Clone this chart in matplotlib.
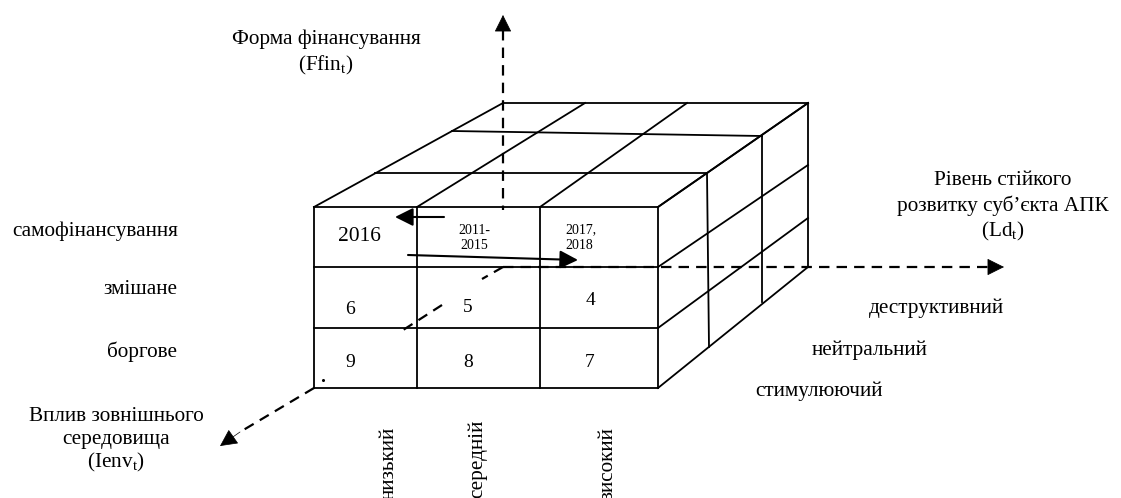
import matplotlib
matplotlib.use('Agg')
import matplotlib.pyplot as plt

plt.rcParams['font.family'] = ['Liberation Serif', 'DejaVu Serif']
plt.rcParams['mathtext.fontset'] = 'custom'
plt.rcParams['mathtext.rm'] = 'Liberation Serif'

# cube geometry, in picture pixels
front_x = [314, 417, 540, 658]
front_y = [207, 267, 328, 388]
back_top_x = [503, 585, 687, 808]
back_top_y = 103
back_y = [103, 165, 218, 267]
top_rows = [(375, 173, 707, 173), (452, 131, 762, 136)]
side_columns = [(707, 173, 709, 347), (762, 136, 762, 302)]

dash_axes = [(503, 30, 503, 210), (503, 267, 988, 267)]
dash_diag = [(503, 267, 482, 279), (442, 305, 400, 332), (314, 388, 240, 432)]
heads = [(503, 30, 503, 15), (988, 267, 1004, 267), (240, 432, 220, 446)]
solid_arrows = [(444, 217, 395, 217), (408, 255, 578, 260)]

cell_labels = [('6', 350, 309), ('5', 468, 307), ('4', 590, 300),
               ('9', 350, 362), ('8', 468, 362), ('7', 590, 362)]
form_labels = [('самофінансування', 178, 231), ('змішане', 177, 289), ('боргове', 177, 352)]
level_labels = [('деструктивний', 1004, 308), ('нейтральний', 928, 350), ('стимулюючий', 883, 391)]
env_labels = [('низький', 389, 427), ('середній', 477, 420), ('високий', 608, 427)]

font = 15.3

fig = plt.figure(figsize=(11.21, 4.98), dpi=100)
ax = fig.add_axes([0, 0, 1, 1])
ax.set_xlim(0, 1121)
ax.set_ylim(498, 0)
ax.axis('off')

lw = 1.3
line = dict(color='black', lw=lw, solid_capstyle='projecting')


def seg(x0, y0, x1, y1):
    ax.plot([x0, x1], [y0, y1], **line)


# front face
for x in front_x:
    seg(x, front_y[0], x, front_y[-1])
for y in front_y:
    seg(front_x[0], y, front_x[-1], y)

# top face
for x0, x1 in zip(front_x, back_top_x):
    seg(x0, front_y[0], x1, back_top_y)
seg(back_top_x[0], back_top_y, back_top_x[-1], back_top_y)
for r in top_rows:
    seg(*r)

# right face
for y0, y1 in zip(front_y, back_y):
    seg(front_x[-1], y0, back_top_x[-1], y1)
seg(back_top_x[-1], back_y[0], back_top_x[-1], back_y[-1])
for c in side_columns:
    seg(*c)

# dashed axes
for d in dash_axes + dash_diag:
    ax.plot([d[0], d[2]], [d[1], d[3]], color='black', lw=1.6, linestyle=(0, (4.7, 3.2)))
ax.plot([323], [380], marker='o', ms=1.2, color='black')
for h in heads:
    ax.annotate('', xy=(h[2], h[3]), xytext=(h[0], h[1]),
                arrowprops=dict(arrowstyle='-|>,head_length=1.0,head_width=0.5', color='black',
                                lw=0.5, shrinkA=0, shrinkB=0, mutation_scale=11))

# solid arrows
for a in solid_arrows:
    ax.annotate('', xy=(a[2], a[3]), xytext=(a[0], a[1]),
                arrowprops=dict(arrowstyle='-|>,head_length=1.0,head_width=0.5', color='black',
                                lw=1.5, shrinkA=0, shrinkB=0, mutation_scale=11))

# cell text
ax.text(359, 236, '2016', fontsize=15.5, ha='center', va='center')
ax.text(474, 230, '2011-', fontsize=10, ha='center', va='center')
ax.text(474, 245, '2015', fontsize=10, ha='center', va='center')
ax.text(565, 230, '2017,', fontsize=10, ha='left', va='center')
ax.text(565, 245, '2018', fontsize=10, ha='left', va='center')
for s, x, y in cell_labels:
    ax.text(x, y, s, fontsize=14, ha='center', va='center')

for s, x, y in form_labels + level_labels:
    ax.text(x, y, s, fontsize=font, ha='right', va='center')
for s, x, y in env_labels:
    ax.text(x, y, s, fontsize=font, rotation=90, ha='center', va='top')

# axis titles
ax.text(326, 39, 'Форма фінансування', fontsize=font, ha='center', va='center')
ax.text(326, 65, r'(Ffin$_{\mathrm{t}}$)', fontsize=font, ha='center', va='center')
ax.text(1003, 180, 'Рівень стійкого', fontsize=font, ha='center', va='center')
ax.text(1003, 206, 'розвитку суб’єкта АПК', fontsize=font, ha='center', va='center')
ax.text(1003, 231, r'(Ld$_{\mathrm{t}}$)', fontsize=font, ha='center', va='center')
ax.text(116, 416, 'Вплив зовнішнього', fontsize=font, ha='center', va='center')
ax.text(116, 439, 'середовища', fontsize=font, ha='center', va='center')
ax.text(116, 462, r'(Ienv$_{\mathrm{t}}$)', fontsize=font, ha='center', va='center')

fig.savefig('out.png', dpi=100)
